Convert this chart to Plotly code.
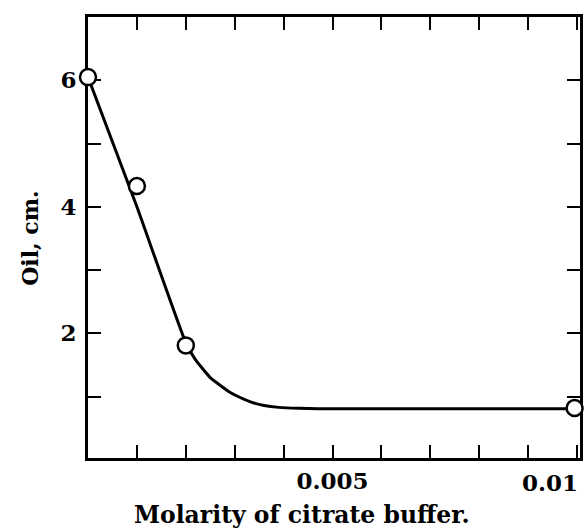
import plotly.graph_objects as go

# Measured points (Molarity of citrate buffer vs Oil, cm.)
pts_x = [0.0, 0.001, 0.002, 0.00995]
pts_y = [6.05, 4.33, 1.81, 0.82]

# Fitted curve
curve_x = [0.0, 0.001, 0.002, 0.0022, 0.0025, 0.0027, 0.0029, 0.0031, 0.00335, 0.0036, 0.0039, 0.0043, 0.0047, 0.01006]
curve_y = [6.05, 4.0, 1.85, 1.58, 1.3, 1.18, 1.07, 0.99, 0.91, 0.86, 0.83, 0.815, 0.81, 0.81]

x_tickvals = [0.001, 0.002, 0.003, 0.004, 0.005, 0.006, 0.007, 0.008, 0.009, 0.010]
x_ticktext = ["", "", "", "", "0.005", "", "", "", "", ""]
x_edge_label = "0.01"   # drawn as annotation ending at x = 0.010 (right edge)
y_tickvals = [1, 2, 3, 4, 5, 6]
y_ticktext = ["", "2", "", "4", "", "6"]

FONT = "DejaVu Serif"

fig = go.Figure()
fig.add_trace(go.Scatter(
    x=curve_x, y=curve_y, mode="lines",
    line=dict(color="black", width=3, shape="spline", smoothing=0.4),
    hoverinfo="skip", cliponaxis=False,
))
fig.add_trace(go.Scatter(
    x=pts_x, y=pts_y, mode="markers",
    marker=dict(symbol="circle", size=16, color="white",
                line=dict(color="black", width=2.5)),
    cliponaxis=False,
))

axis_common = dict(
    showline=True, linecolor="black", linewidth=3, mirror="ticks",
    ticks="inside", ticklen=13, tickwidth=2, tickcolor="black",
    showgrid=False, zeroline=False, layer="below traces",
    tickfont=dict(family=FONT, size=23, color="black", weight="bold"),
)

fig.update_xaxes(range=[0, 0.01006], tickmode="array",
                 tickvals=x_tickvals, ticktext=x_ticktext, **axis_common)
fig.update_yaxes(range=[0.03, 7.0], tickmode="array",
                 tickvals=y_tickvals, ticktext=y_ticktext, ticklabelstandoff=4,
                 **axis_common)

fig.add_annotation(text=x_edge_label, xref="x", yref="paper",
                   x=x_tickvals[-1], y=-(482 - 458) / 441, showarrow=False,
                   xanchor="right", yanchor="middle", xshift=3,
                   font=dict(family=FONT, size=23, color="black", weight="bold"))
fig.add_annotation(text="Molarity of citrate buffer.", xref="paper", yref="paper",
                   x=(303 - 88) / 495, y=-(515 - 458) / 441, showarrow=False,
                   xanchor="center", yanchor="middle",
                   font=dict(family=FONT, size=23.5, color="black", weight="bold"))
fig.add_annotation(text="Oil, cm.", xref="paper", yref="paper",
                   x=-(88 - 29) / 495, y=0.5, showarrow=False, textangle=-90,
                   xanchor="center", yanchor="middle",
                   font=dict(family=FONT, size=22, color="black", weight="bold"))

fig.update_layout(
    width=585, height=529,
    margin=dict(l=88, r=2, t=17, b=71),
    plot_bgcolor="white", paper_bgcolor="white",
    showlegend=False,
)

fig.write_html("out.html", config={"displayModeBar": False},
               post_script="document.body.style.margin='0';document.body.style.overflow='hidden';")
